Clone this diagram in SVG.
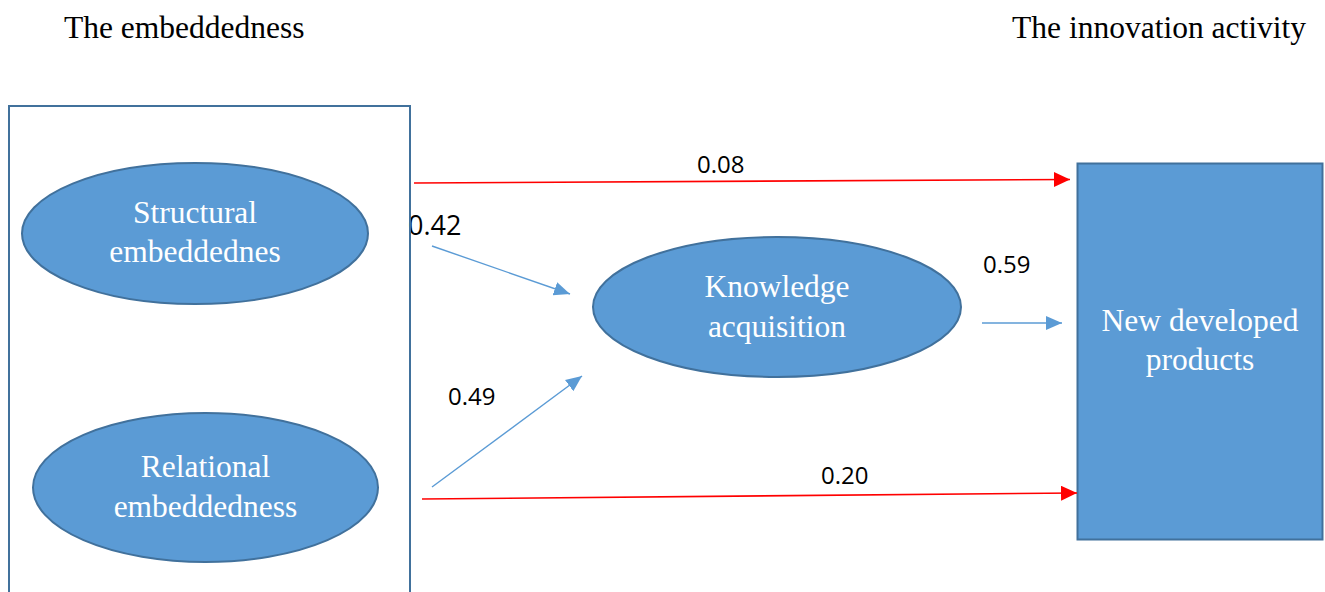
<svg xmlns="http://www.w3.org/2000/svg" width="1325" height="592" viewBox="0 0 1325 592">
<style>
.title{font-family:"Liberation Serif","Times New Roman",serif;font-size:31.5px;fill:#000}
.node{fill:#5B9BD5;stroke:#41719C;stroke-width:2}
.ntext{font-family:"Liberation Serif","Times New Roman",serif;font-size:31.5px;fill:#fff;text-anchor:middle}
.lbl{font-family:"Open Sans","Liberation Sans",sans-serif;font-size:24px;fill:#000}
.red{stroke:#FF0000;stroke-width:1.6;fill:none}
.blue{stroke:#5B9BD5;stroke-width:1.4;fill:none}
</style>
<defs>
<marker id="ahRed" markerUnits="userSpaceOnUse" markerWidth="18" markerHeight="16" refX="16" refY="7.5" orient="auto">
<path d="M0,0 L16,7.5 L0,15 z" fill="#FF0000"/>
</marker>
<marker id="ahBlue" markerUnits="userSpaceOnUse" markerWidth="18" markerHeight="16" refX="16" refY="7" orient="auto">
<path d="M0,0 L16,7 L0,14 z" fill="#5B9BD5"/>
</marker>
</defs>
<rect width="1325" height="592" fill="#fff"/>
<text class="title" x="64" y="38">The embeddedness</text>
<text class="title" x="1306" y="38" text-anchor="end">The innovation activity</text>

<g id="labels">
<text class="lbl" x="408" y="235" style="font-size:27px">0.42</text>
<text class="lbl" x="697" y="173">0.08</text>
<text class="lbl" x="448" y="405">0.49</text>
<text class="lbl" x="983" y="273">0.59</text>
<text class="lbl" x="821" y="484">0.20</text>
</g>

<g id="embeddedness-group">
<rect x="9" y="106" width="401" height="500" fill="none" stroke="#41719C" stroke-width="2"/>
</g>

<g id="structural">
<ellipse class="node" cx="195" cy="233.5" rx="173" ry="70.5"/>
<text class="ntext" x="195" y="223">Structural</text>
<text class="ntext" x="195" y="262">embeddednes</text>
</g>

<g id="relational">
<ellipse class="node" cx="205.5" cy="487.5" rx="172.5" ry="74.5"/>
<text class="ntext" x="205.5" y="477">Relational</text>
<text class="ntext" x="205.5" y="517">embeddedness</text>
</g>

<g id="knowledge">
<ellipse class="node" cx="777" cy="307" rx="184" ry="70"/>
<text class="ntext" x="777" y="297">Knowledge</text>
<text class="ntext" x="777" y="337">acquisition</text>
</g>

<g id="products">
<rect class="node" x="1077.5" y="163.5" width="245" height="376"/>
<text class="ntext" x="1200" y="331">New developed</text>
<text class="ntext" x="1200" y="370">products</text>
</g>

<g id="connectors">
<line class="red" x1="414" y1="183" x2="1070" y2="179.5" marker-end="url(#ahRed)"/>
<line class="red" x1="422" y1="499" x2="1077" y2="493" marker-end="url(#ahRed)"/>
<line class="blue" x1="432" y1="246" x2="570" y2="294" marker-end="url(#ahBlue)"/>
<line class="blue" x1="432" y1="487" x2="582" y2="376" marker-end="url(#ahBlue)"/>
<line class="blue" x1="982" y1="323" x2="1062" y2="323" marker-end="url(#ahBlue)"/>
</g>
</svg>
